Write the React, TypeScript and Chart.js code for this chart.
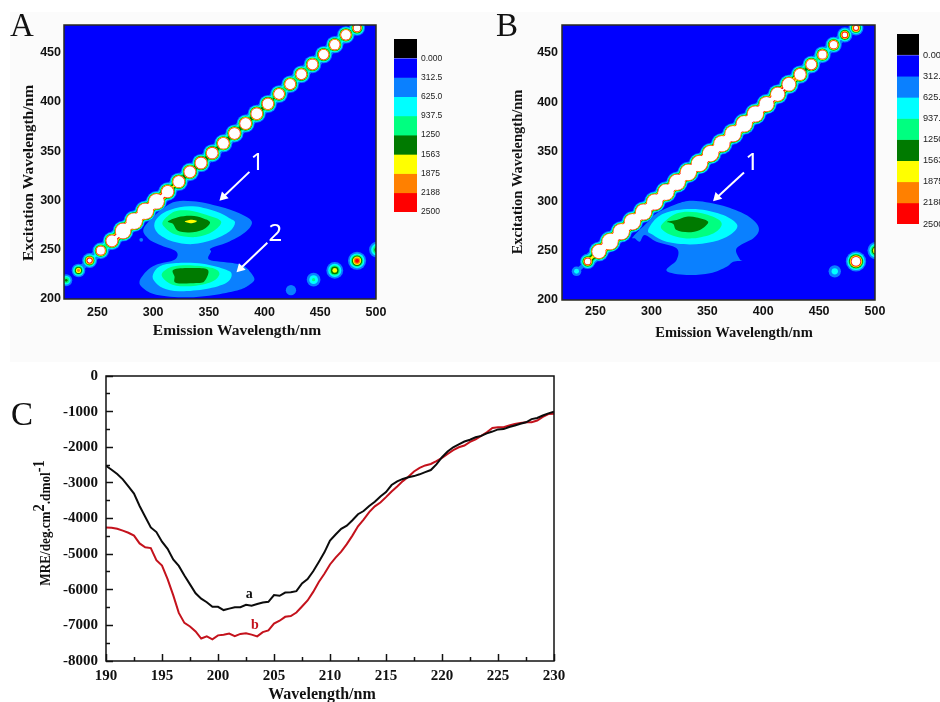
import React, { useEffect, useRef } from "react";
import { Chart, registerables } from "chart.js";

Chart.register(...registerables);

// ---------- Fluorescence data (emission nm, excitation nm, intensity) ----------
const levelValues = [312.5, 625, 937.5, 1250, 1563, 1875, 2188, 2500];
const levelColors = ["#0a80ff", "#00ffff", "#00ff80", "#007a00", "#ffff00", "#ff8000", "#ff0000", "#ffffff"];
const scaleLabels = ["0.000", "312.5", "625.0", "937.5", "1250", "1563", "1875", "2188", "2500"];
const scaleColors = ["#000000", "#0000ff", "#0a80ff", "#00ffff", "#00ff80", "#007a00", "#ffff00", "#ff8000", "#ff0000"];
const scaleEdges = [-312.5, 0, 312.5, 625, 937.5, 1250, 1562.5, 1875, 2187.5, 2500];

const emTicks = [250, 300, 350, 400, 450, 500];
const exTicks = [200, 250, 300, 350, 400, 450];

const chainEm = [222, 233, 243, 253, 263, 273, 283, 293, 303, 313, 323, 333, 343, 353, 363, 373, 383, 393, 403, 413, 423, 433, 443, 453, 463, 473, 483];
const chainEx = [219, 229, 239, 249, 259, 269, 279, 289, 299, 309, 319, 329, 338, 348, 358, 368, 378, 388, 398, 408, 418, 428, 438, 448, 458, 468, 475];
const chainIntensityA = [1350, 2050, 3000, 5000, 9000, 24000, 30000, 30000, 24000, 10000, 9000, 9000, 9000, 8500, 8500, 8500, 8500, 8500, 8000, 7000, 7000, 7000, 7000, 6500, 6500, 6500, 4000];
const chainIntensityB = [0, 800, 3500, 16000, 30000, 30000, 30000, 30000, 30000, 30000, 30000, 30000, 30000, 30000, 30000, 30000, 30000, 30000, 20000, 16000, 14000, 9000, 7000, 5000, 4500, 3200, 3000];

const dotEmA = [289.3, 423.7, 444, 463, 483, 501];
const dotExA = [260, 209, 219.6, 229, 238.8, 250];
const dotIntensityA = [340, 600, 1000, 1800, 2400, 1500];
const dotEmB = [464, 483, 501];
const dotExB = [229, 239, 250];
const dotIntensityB = [800, 4000, 2000];

const blobA1 = [[292.3, 273.6], [314.7, 296.5], [335.6, 299.2], [359.5, 293.8], [377.4, 287], [388.5, 278.6], [383.4, 268.5], [368.5, 258.4], [352, 251.6], [352, 248.2], [350.5, 239.8], [371.4, 236.4], [381.9, 233], [387.9, 226.3], [390.9, 219.6], [386.4, 214.5], [377.4, 209.4], [356.5, 204.4], [329.6, 201.7], [302.7, 204.4], [290.8, 211.1], [287.8, 217.9], [293.8, 228], [302.7, 234.8], [319.2, 239.8], [320.7, 248.2], [305.7, 255], [295.3, 261.7]];
const blobA2 = [[301.2, 276.9], [308.7, 287], [323.6, 293.1], [338.6, 293.8], [356.5, 288.7], [368.5, 282], [373.5, 277.6], [368.5, 268.5], [353.5, 260], [335.6, 255.7], [317.7, 258.4], [304.2, 266.8]];
const blobA3 = [[308.7, 278.6], [319.2, 288.7], [332.6, 289.7], [347.5, 285.4], [361, 278.6], [353.5, 268.5], [338.6, 262.8], [320.7, 265.1], [311.1, 271.9]];
const blobA4 = [[313.2, 278.6], [322.2, 283], [334.1, 284.4], [344.6, 282], [351.1, 277.6], [344.6, 270.2], [332.6, 267.5], [322.2, 269.2], [317.7, 276.3]];
const blobA5 = [[328.4, 278.6], [334.1, 280.3], [339.2, 279], [334.1, 276.9]];
const lowerA2 = [[299.8, 224.6], [305.7, 233], [320.7, 236.4], [344.6, 235.8], [365.5, 229.7], [370.5, 224.6], [365.5, 216.2], [347.5, 210.1], [323.6, 207.8], [308.7, 211.1], [301.2, 217.9]];
const lowerA3 = [[308.1, 226.3], [317.7, 233], [335.6, 234.1], [353.5, 231.4], [359.5, 225.6], [353.5, 217.9], [338.6, 213.5], [320.7, 213.5], [310.2, 219.6]];
const lowerA4 = [[318.3, 229.7], [332.6, 231.4], [349, 229.7], [346, 217.9], [338.6, 216.2], [320.7, 216.2], [319.2, 222.9]];

const blobB1 = [[283.6, 264], [298.6, 280.8], [304.5, 287.5], [322.5, 297], [337.4, 300.3], [361.3, 296], [382.2, 287.5], [392.7, 279], [396.2, 270.7], [391.2, 262.3], [376.2, 252.2], [379.2, 241], [382.2, 239.7], [373.2, 238.7], [367.3, 233.7], [352.3, 227], [331.4, 225.3], [313.5, 229.6], [322.5, 240.4], [322.5, 252.2], [304.5, 258.9], [294, 265.7], [289.6, 258.9], [285.1, 262.3]];
const blobB2 = [[297, 270.7], [306, 284.2], [322.5, 290.9], [343.4, 291.6], [364.3, 285.9], [376.8, 275.8], [370.2, 265.7], [355.3, 258.9], [334.4, 256.2], [313.5, 258.9], [301.5, 265.7]];
const blobB3 = [[309, 275.8], [322.5, 287.5], [340.4, 288.6], [358.3, 282.5], [362.8, 275.8], [355.3, 267.3], [337.4, 262.3], [322.5, 264], [312, 269]];
const blobB4 = [[314.1, 279], [322.5, 280.8], [331.4, 284.2], [340.4, 283.5], [350.8, 279], [343.4, 270.7], [332.9, 268.4], [322.5, 270.7], [319.5, 276.8]];

const arrowsA = [[[386.4, 329], [363, 303.7]], [[402.5, 257], [378.3, 231]]];
const arrowsB = [[[382.8, 329], [358.6, 303.7]]];

// ---------- Circular dichroism data ----------
const wavelength = [190, 190.5, 191, 191.5, 192, 192.5, 193, 193.5, 194, 194.5, 195, 195.5, 196, 196.5, 197, 197.5, 198, 198.5, 199, 199.5, 200, 200.5, 201, 201.5, 202, 202.5, 203, 203.5, 204, 204.5, 205, 205.5, 206, 206.5, 207, 207.5, 208, 208.5, 209, 209.5, 210, 210.5, 211, 211.5, 212, 212.5, 213, 213.5, 214, 214.5, 215, 215.5, 216, 216.5, 217, 217.5, 218, 218.5, 219, 219.5, 220, 220.5, 221, 221.5, 222, 222.5, 223, 223.5, 224, 224.5, 225, 225.5, 226, 226.5, 227, 227.5, 228, 228.5, 229, 229.5, 230];
const seriesA = [-2520, -2630, -2750, -2900, -3100, -3300, -3650, -3950, -4250, -4380, -4650, -4850, -5150, -5330, -5600, -5850, -6100, -6250, -6350, -6480, -6480, -6570, -6530, -6490, -6490, -6420, -6450, -6400, -6360, -6340, -6150, -6170, -6080, -6070, -6040, -5820, -5700, -5480, -5220, -4950, -4620, -4450, -4290, -4200, -4050, -3880, -3790, -3650, -3530, -3380, -3260, -3060, -2960, -2890, -2840, -2810, -2760, -2700, -2640, -2480, -2280, -2120, -2000, -1920, -1840, -1790, -1720, -1680, -1610, -1560, -1500, -1490, -1430, -1390, -1340, -1300, -1210, -1180, -1110, -1050, -1000];
const seriesB = [-4250, -4260, -4290, -4340, -4400, -4480, -4700, -4810, -4830, -5170, -5320, -5700, -6150, -6650, -6930, -7030, -7170, -7370, -7310, -7390, -7280, -7260, -7230, -7300, -7240, -7220, -7260, -7310, -7190, -7140, -6950, -6870, -6760, -6740, -6640, -6470, -6300, -6060, -5780, -5550, -5290, -5100, -4930, -4720, -4480, -4220, -4030, -3820, -3660, -3550, -3400, -3240, -3100, -2950, -2830, -2680, -2580, -2510, -2470, -2390, -2300, -2190, -2080, -2000, -1950, -1850, -1780, -1680, -1580, -1460, -1440, -1440, -1390, -1350, -1320, -1300, -1300, -1250, -1150, -1070, -1060];
const cdMajorX = [190, 195, 200, 205, 210, 215, 220, 225, 230];
const cdMinorX = [192.5, 197.5, 202.5, 207.5, 212.5, 217.5, 222.5, 227.5];
const cdMajorY = [0, -1000, -2000, -3000, -4000, -5000, -6000, -7000, -8000];
const cdMinorY = [-500, -1500, -2500, -3500, -4500, -5500, -6500, -7500];

// ---------- Rendering helpers ----------
const SANS = "'Liberation Sans', Arial, sans-serif";
const SERIF = "'Liberation Serif', 'Times New Roman', serif";
const SADDLE = 0.17;

const contourRadius = (peak: number, level: number, sigma: number) =>
  peak > level ? sigma * Math.sqrt(2 * Math.log(peak / level)) : 0;

function beadDatasets(em: number[], ex: number[], intensity: number[], sigma: number, linked: boolean) {
  const points = em.map((x, i) => ({ x, y: ex[i] }));
  return levelValues.map((level, li) => ({
    data: points,
    showLine: linked,
    clip: 0,
    borderWidth: 1,
    borderColor: levelColors[li],
    pointBorderWidth: 0,
    pointBackgroundColor: levelColors[li],
    pointHoverRadius: 0,
    pointRadius: intensity.map((v) => contourRadius(v, level, sigma)),
    segment: linked
      ? {
          borderColor: (c: any) => {
            const s = SADDLE * (intensity[c.p0DataIndex] + intensity[c.p1DataIndex]) / 2;
            return s > level ? levelColors[li] : "rgba(0,0,0,0)";
          },
          borderWidth: (c: any) => {
            const s = SADDLE * (intensity[c.p0DataIndex] + intensity[c.p1DataIndex]) / 2;
            return Math.max(1, 2 * contourRadius(s, level, sigma));
          },
        }
      : undefined,
  }));
}

const blobDataset = (poly: number[][], color: string) => ({
  contour: true,
  data: poly.map(([x, y]) => ({ x, y })),
  showLine: false,
  pointRadius: 0,
  backgroundColor: color,
  borderColor: color,
});

const arrowDataset = (pair: number[][]) => ({
  data: pair.map(([x, y]) => ({ x, y })),
  showLine: true,
  clip: 0,
  borderColor: "#ffffff",
  borderWidth: 2,
  pointStyle: "triangle",
  pointRotation: 225,
  pointBorderWidth: 0,
  pointBackgroundColor: "#ffffff",
  pointRadius: [0, 5.5],
});

const withOrder = (list: any[]) => list.map((d, i) => ({ ...d, order: -i }));

const contourPlugin = {
  id: "contourPolygons",
  beforeDraw(chart: any) {
    if (!chart.options.plugins.panel?.field) return;
    const { ctx, chartArea: a } = chart;
    ctx.save();
    ctx.fillStyle = chart.options.plugins.panel.field;
    ctx.fillRect(a.left, a.top, a.right - a.left, a.bottom - a.top);
    ctx.restore();
  },
  afterDatasetDraw(chart: any, args: any) {
    const ds = chart.data.datasets[args.index];
    if (!ds.contour) return;
    const p = args.meta.data;
    const { ctx, chartArea: a } = chart;
    ctx.save();
    ctx.beginPath();
    ctx.rect(a.left, a.top, a.right - a.left, a.bottom - a.top);
    ctx.clip();
    ctx.beginPath();
    const n = p.length;
    ctx.moveTo(p[0].x, p[0].y);
    for (let i = 0; i < n; i++) {
      const p0 = p[(i + n - 1) % n];
      const p1 = p[i];
      const p2 = p[(i + 1) % n];
      const p3 = p[(i + 2) % n];
      ctx.bezierCurveTo(
        p1.x + (p2.x - p0.x) / 6,
        p1.y + (p2.y - p0.y) / 6,
        p2.x - (p3.x - p1.x) / 6,
        p2.y - (p3.y - p1.y) / 6,
        p2.x,
        p2.y,
      );
    }
    ctx.closePath();
    ctx.fillStyle = ds.backgroundColor;
    ctx.fill();
    ctx.restore();
  },
};

const annotationPlugin = {
  id: "panelText",
  afterDraw(chart: any) {
    const cfg = chart.options.plugins.panel;
    if (!cfg) return;
    const { ctx, chartArea: a, scales } = chart;
    ctx.save();
    ctx.strokeStyle = cfg.frame;
    ctx.lineWidth = cfg.frameWidth;
    ctx.strokeRect(a.left, a.top, a.right - a.left, a.bottom - a.top);
    ctx.textBaseline = "middle";
    for (const t of cfg.texts) {
      const x = t.dataX !== undefined ? scales.x.getPixelForValue(t.dataX) : t.x;
      const y = t.dataY !== undefined ? scales.y.getPixelForValue(t.dataY) : t.y;
      ctx.save();
      ctx.translate(x, y);
      if (t.rotate) ctx.rotate(t.rotate);
      ctx.fillStyle = t.color || "#111";
      ctx.font = t.font;
      ctx.textAlign = t.align || "center";
      ctx.fillText(t.text, 0, 0);
      ctx.restore();
    }
    if (cfg.superTitle) {
      const st = cfg.superTitle;
      ctx.translate(st.x, st.y);
      ctx.rotate(-Math.PI / 2);
      ctx.scale(st.squeeze, 1);
      ctx.textAlign = "left";
      ctx.fillStyle = "#111";
      const w = st.parts.reduce((sum: number, p: any) => {
        ctx.font = p.font;
        return sum + ctx.measureText(p.text).width;
      }, 0);
      let cx = -w / 2;
      for (const p of st.parts) {
        ctx.font = p.font;
        ctx.fillText(p.text, cx, p.raise || 0);
        cx += ctx.measureText(p.text).width;
      }
    }
    ctx.restore();
  },
};

const setTicks = (values: number[]) => (scale: any) => {
  scale.ticks = values.map((value) => ({ value }));
};

// Tick padding otherwise inflates the plot margins; the frame positions are fixed.
const fixSize = (dim: "width" | "height", size: number) => (s: any) => {
  s[dim] = size;
  s.paddingLeft = 0;
  s.paddingRight = 0;
  s.paddingTop = 0;
  s.paddingBottom = 0;
};

function fieldAxes(xHeight: number, yWidth: number, tickSize: number, xPad: number, yPad: number) {
  const ticks = (padding: number) => ({
    autoSkip: false,
    maxRotation: 0,
    padding,
    color: "#111",
    font: { family: SANS, weight: "bold", size: tickSize },
    callback: (v: number) => String(v),
  });
  const grid = { drawOnChartArea: false, drawTicks: false };
  return {
    x: {
      type: "linear",
      min: 220,
      max: 500,
      grid,
      border: { display: false },
      ticks: ticks(xPad),
      afterBuildTicks: setTicks(emTicks),
      afterFit: fixSize("height", xHeight),
    },
    y: {
      type: "linear",
      min: 200,
      max: 478,
      grid,
      border: { display: false },
      ticks: ticks(yPad),
      afterBuildTicks: setTicks(exTicks),
      afterFit: fixSize("width", yWidth),
    },
  };
}

const baseOptions = (padding: any, scales: any, panel: any) => ({
  responsive: false,
  animation: false,
  layout: { padding, autoPadding: false },
  events: [],
  plugins: { legend: { display: false }, tooltip: { enabled: false }, panel },
  scales,
});

function fieldChart(canvas: HTMLCanvasElement, datasets: any[], opts: any) {
  return new Chart(canvas, {
    type: "line",
    data: { datasets: withOrder(datasets) },
    options: baseOptions(opts.padding, fieldAxes(opts.xHeight, opts.yWidth, opts.tickSize, opts.xPad, opts.yPad), opts.panel) as any,
    plugins: [contourPlugin, annotationPlugin],
  } as any);
}

function colorBar(canvas: HTMLCanvasElement, opts: any) {
  return new Chart(canvas, {
    type: "bar",
    data: {
      labels: [""],
      datasets: scaleColors.map((c, i) => ({
        data: [[scaleEdges[i], scaleEdges[i + 1]]],
        backgroundColor: c,
        borderWidth: 0,
        borderSkipped: false,
        barPercentage: 1,
        categoryPercentage: 1,
      })),
    },
    options: baseOptions(opts.padding, {
      x: { display: false, stacked: true },
      y: {
        type: "linear",
        position: "right",
        reverse: true,
        min: -312.5,
        max: 2500,
        grid: { drawOnChartArea: false, drawTicks: false },
        border: { display: false },
        afterBuildTicks: setTicks(scaleEdges.slice(1)),
        afterFit: fixSize("width", opts.width),
        ticks: {
          autoSkip: false,
          padding: 4,
          color: "#222",
          font: { family: SANS, size: opts.font },
          callback: (_: number, i: number) => scaleLabels[i],
        },
      },
    }, null) as any,
  } as any);
}

const titleFont = (size: number) => `bold ${size}px ${SERIF}`;
const panelLetter = `33px ${SERIF}`;
const digitFont = `24px 'Noto Sans', sans-serif`;

function buildA(canvas: HTMLCanvasElement) {
  return fieldChart(canvas, [
    blobDataset(blobA1, levelColors[0]),
    blobDataset(blobA2, levelColors[1]),
    blobDataset(blobA3, levelColors[2]),
    blobDataset(blobA4, levelColors[3]),
    blobDataset(blobA5, levelColors[4]),
    blobDataset(lowerA2, levelColors[1]),
    blobDataset(lowerA3, levelColors[2]),
    blobDataset(lowerA4, levelColors[3]),
    ...beadDatasets(dotEmA, dotExA, dotIntensityA, 4.5, false),
    ...beadDatasets(chainEm, chainEx, chainIntensityA, 3.5, true),
    ...arrowsA.map(arrowDataset),
  ], {
    padding: { left: 0, right: 14, top: 25, bottom: 0 },
    xHeight: 46,
    yWidth: 64,
    tickSize: 12.5,
    xPad: 6,
    yPad: 3,
    panel: {
      field: "#0000ff",
      frame: "#2a2a20",
      frameWidth: 1.5,
      texts: [
        { text: "A", x: 10, y: 27, font: panelLetter, align: "left" },
        { text: "Emission Wavelength/nm", x: 237, y: 331, font: titleFont(15.5) },
        { text: "Excitation Wavelength/nm", x: 29, y: 173, font: titleFont(15.5), rotate: -Math.PI / 2 },
        { text: "1", dataX: 393.6, dataY: 338, font: digitFont, color: "#fff" },
        { text: "2", dataX: 409.7, dataY: 266, font: digitFont, color: "#fff" },
      ],
    },
  });
}

function buildB(canvas: HTMLCanvasElement) {
  return fieldChart(canvas, [
    blobDataset(blobB1, levelColors[0]),
    blobDataset(blobB2, levelColors[1]),
    blobDataset(blobB3, levelColors[2]),
    blobDataset(blobB4, levelColors[3]),
    ...beadDatasets(dotEmB, dotExB, dotIntensityB, 4.5, false),
    ...beadDatasets(chainEm, chainEx, chainIntensityB, 3.5, true),
    ...arrowsB.map(arrowDataset),
  ], {
    padding: { left: 0, right: 15, top: 25, bottom: 0 },
    xHeight: 45,
    yWidth: 82,
    tickSize: 12.5,
    xPad: 4,
    yPad: 4,
    panel: {
      field: "#0000ff",
      frame: "#2a2a20",
      frameWidth: 1.5,
      texts: [
        { text: "B", x: 16, y: 27, font: panelLetter, align: "left" },
        { text: "Emission Wavelength/nm", x: 254, y: 333, font: titleFont(14.5) },
        { text: "Excitation Wavelength/nm", x: 38, y: 172, font: titleFont(14.5), rotate: -Math.PI / 2 },
        { text: "1", dataX: 390, dataY: 338, font: digitFont, color: "#fff" },
      ],
    },
  });
}

function buildC(canvas: HTMLCanvasElement) {
  const tickFont = { family: SERIF, weight: "bold", size: 15 };
  const shared = { type: "linear" };
  const line = (data: number[], color: string) => ({
    data: wavelength.map((x, i) => ({ x, y: data[i] })),
    borderColor: color,
    borderWidth: 2,
    pointRadius: 0,
    tension: 0,
    xAxisID: "x",
    yAxisID: "y",
  });
  return new Chart(canvas, {
    type: "line",
    data: { datasets: [line(seriesB, "#c4121c"), line(seriesA, "#0c0c0c")].map((d, i) => ({ ...d, order: -i })) },
    options: baseOptions({ left: 0, right: 16, top: 12, bottom: 0 }, {
      x: {
        ...shared,
        min: 190,
        max: 230,
        weight: 1,
        grid: { drawOnChartArea: false, tickLength: -7, tickColor: "#111", tickWidth: 1.5 },
        border: { display: false },
        afterBuildTicks: setTicks(cdMajorX),
        afterFit: fixSize("height", 41),
        ticks: { padding: 13, autoSkip: false, maxRotation: 0, color: "#111", font: tickFont, callback: (v: number) => String(v) },
      },
      xMinor: {
        ...shared,
        position: "bottom",
        min: 190,
        max: 230,
        weight: -1,
        grid: { drawOnChartArea: false, tickLength: -4, tickColor: "#111", tickWidth: 1.5 },
        border: { display: false },
        afterBuildTicks: setTicks(cdMinorX),
        afterFit: fixSize("height", 0),
        ticks: { display: false, autoSkip: false },
      },
      y: {
        ...shared,
        min: -8000,
        max: 0,
        weight: 1,
        grid: { drawOnChartArea: false, tickLength: -7, tickColor: "#111", tickWidth: 1.5 },
        border: { display: false },
        afterBuildTicks: setTicks(cdMajorY),
        afterFit: fixSize("width", 106),
        ticks: { padding: 15, autoSkip: false, color: "#111", font: tickFont, callback: (v: number) => String(v) },
      },
      yMinor: {
        ...shared,
        position: "left",
        min: -8000,
        max: 0,
        weight: -1,
        grid: { drawOnChartArea: false, tickLength: -4, tickColor: "#111", tickWidth: 1.5 },
        border: { display: false },
        afterBuildTicks: setTicks(cdMinorY),
        afterFit: fixSize("width", 0),
        ticks: { display: false, autoSkip: false },
      },
    }, {
      frame: "#111",
      frameWidth: 1.5,
      texts: [
        { text: "C", x: 11, y: 52, font: panelLetter, align: "left" },
        { text: "Wavelength/nm", x: 322, y: 331, font: titleFont(16) },
        { text: "a", dataX: 202.8, dataY: -6130, font: titleFont(14) },
        { text: "b", dataX: 203.3, dataY: -7000, font: titleFont(14), color: "#c4121c" },
      ],
      superTitle: {
        x: 46,
        y: 159,
        squeeze: 0.85,
        parts: [
          { text: "MRE/deg.cm", font: titleFont(15.5) },
          { text: "2", font: titleFont(17), raise: -6 },
          { text: ".dmol", font: titleFont(15.5) },
          { text: "-1", font: titleFont(17), raise: -6 },
        ],
      },
    }) as any,
    plugins: [annotationPlugin],
  } as any);
}

type Spec = { left: number; top: number; width: number; height: number; build: (c: HTMLCanvasElement) => Chart };

const panels: Spec[] = [
  { left: 0, top: 0, width: 390, height: 345, build: buildA },
  { left: 480, top: 0, width: 410, height: 345, build: buildB },
  { left: 0, top: 364, width: 570, height: 338, build: buildC },
  { left: 390, top: 30, width: 70, height: 196, build: (c) => colorBar(c, { padding: { left: 4, right: 0, top: 9, bottom: 14 }, width: 43, font: 8.5 }) },
  { left: 893, top: 25, width: 100, height: 210, build: (c) => colorBar(c, { padding: { left: 4, right: 0, top: 9, bottom: 11 }, width: 74, font: 9.2 }) },
];

export default function App() {
  const refs = useRef<(HTMLCanvasElement | null)[]>([]);
  useEffect(() => {
    document.body.style.margin = "0";
    const charts = panels.map((p, i) => p.build(refs.current[i] as HTMLCanvasElement));
    return () => charts.forEach((c) => c.destroy());
  }, []);
  return (
    <div style={{ position: "fixed", left: 0, top: 0, width: 940, height: 702, overflow: "hidden", background: "#fff" }}>
      <div style={{ position: "absolute", left: 10, top: 12, width: 930, height: 350, background: "#fbfbfb" }} />
      {panels.map((p, i) => (
        <canvas
          key={i}
          ref={(el) => { refs.current[i] = el; }}
          width={p.width}
          height={p.height}
          style={{ position: "absolute", left: p.left, top: p.top, width: p.width, height: p.height, filter: "blur(0.45px)" }}
        />
      ))}
    </div>
  );
}
